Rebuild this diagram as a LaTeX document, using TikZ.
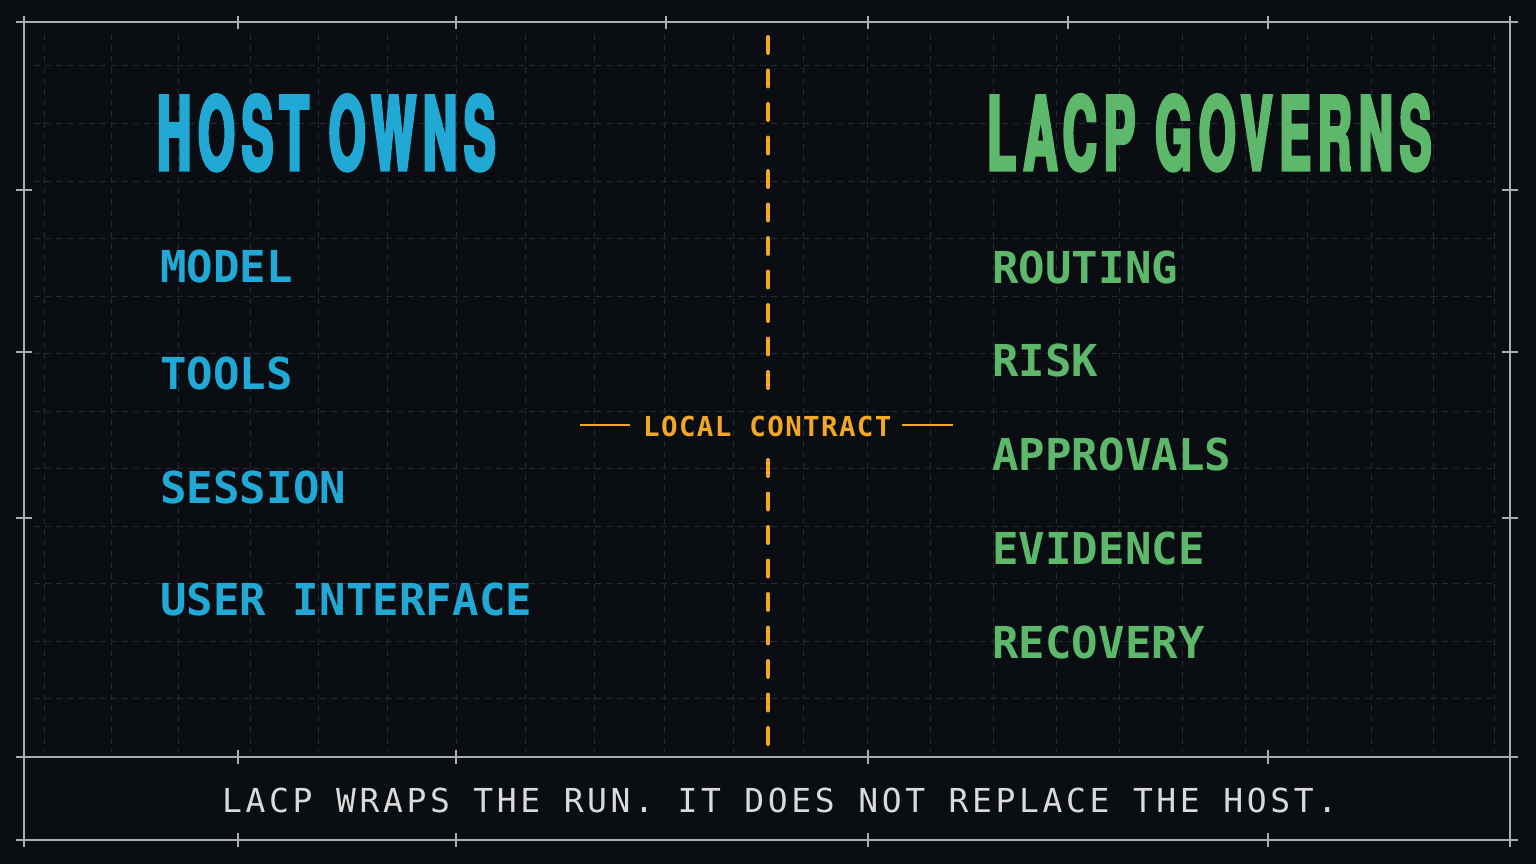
\documentclass[tikz,border=0pt]{standalone}
\usepackage{fontspec}
\usepackage{tikz}
\newfontfamily\headfont{texgyreheros-bold.otf}[FakeStretch=0.46,LetterSpace=7,RawFeature={embolden=3}]
\newfontfamily\itemfont{DejaVu Sans Mono}[LetterSpace=0.2]
\newfontfamily\tagfont{DejaVu Sans Mono}[LetterSpace=5]
\newfontfamily\notefont{DejaVu Sans Mono}[LetterSpace=11]
\definecolor{bg}{HTML}{0A0D12}
\definecolor{hostblue}{HTML}{22A8D4}
\definecolor{lacpgreen}{HTML}{5DB86B}
\definecolor{contractorange}{HTML}{F2A725}
\definecolor{framegray}{HTML}{A9ADB1}
\definecolor{gridgray}{HTML}{262B31}
\definecolor{notegray}{HTML}{DADBD9}
\pgfdeclarelayer{background}
\pgfsetlayers{background,main}

\begin{document}
\begin{tikzpicture}[x=1pt,y=-1pt,
  gridline/.style={draw=gridgray,line width=1pt,dash pattern=on 6pt off 5pt},
  frameline/.style={draw=framegray,line width=1.6pt},
  divider/.style={draw=contractorange,line width=4pt,line cap=round,dash pattern=on 16pt off 17.5pt},
  tagline/.style={draw=contractorange,line width=2.6pt},
  head/.style={anchor=base west,inner sep=0pt,font=\headfont\fontsize{102}{102}\selectfont},
  item/.style={anchor=base west,inner sep=0pt,font=\itemfont\bfseries\fontsize{44}{44}\selectfont},
  tag/.style={anchor=base west,inner sep=0pt,text=contractorange,font=\tagfont\bfseries\fontsize{27.5}{27.5}\selectfont},
  note/.style={anchor=base west,inner sep=0pt,text=notegray,font=\notefont\fontsize{33}{33}\selectfont}]
\begin{pgfonlayer}{background}
\fill[bg] (0,0) rectangle (1536,864);
\foreach \gx in {44,111,178,250,318,387,456,525,594,664,733,803,867,930,993,1056,1119,1182,1245,1307,1371,1433,1494}
  \draw[gridline] (\gx,34) -- (\gx,752);
\foreach \gy in {0,...,11}
  \draw[gridline] (34,66+57.5*\gy) -- (1497,66+57.5*\gy);
\end{pgfonlayer}
% frame
\foreach \fy in {22,757,840}
  \draw[frameline] (16,\fy) -- (1518,\fy);
\foreach \fx in {24,1510}
  \draw[frameline] (\fx,16) -- (\fx,847);
\foreach \tx in {238,456,666,868,1068,1268}
  \draw[frameline] (\tx,16) -- (\tx,29);
\foreach \tx in {238,456,868,1268} {
  \draw[frameline] (\tx,750) -- (\tx,764);
  \draw[frameline] (\tx,833) -- (\tx,847);
}
\foreach \ty in {190,352,518} {
  \draw[frameline] (16,\ty) -- (32,\ty);
  \draw[frameline] (1502,\ty) -- (1518,\ty);
}
% headings
\node[head,text=hostblue] (hostHead) at (157,170) {HOST OWNS};
\node[head,text=lacpgreen] (lacpHead) at (987,170) {LACP GOVERNS};
% host side
\node[item,text=hostblue] (model) at (160,282) {MODEL};
\node[item,text=hostblue] (tools) at (160,389) {TOOLS};
\node[item,text=hostblue] (session) at (160,503) {SESSION};
\node[item,text=hostblue] (userUi) at (160,615) {USER INTERFACE};
% lacp side
\node[item,text=lacpgreen] (routing) at (992,283) {ROUTING};
\node[item,text=lacpgreen] (risk) at (992,376) {RISK};
\node[item,text=lacpgreen] (approvals) at (992,470) {APPROVALS};
\node[item,text=lacpgreen] (evidence) at (992,564) {EVIDENCE};
\node[item,text=lacpgreen] (recovery) at (992,658) {RECOVERY};
% contract
\node[tag] (contract) at (643,436) {LOCAL CONTRACT};
\coordinate (divTop) at (768,37);
\coordinate (divTopEnd) at (768,388);
\coordinate (divBotStart) at (768,460);
\coordinate (divBot) at (768,745);
\draw[divider] (divTop) -- (divTopEnd);
\draw[divider] (divBotStart) -- (divBot);
\coordinate (tagLeftA) at (580,425);
\coordinate (tagLeftB) at (630,425);
\coordinate (tagRightA) at (902,425);
\coordinate (tagRightB) at (953,425);
\draw[tagline] (tagLeftA) -- (tagLeftB);
\draw[tagline] (tagRightA) -- (tagRightB);
% footer
\node[note] (footNote) at (222,812) {LACP WRAPS THE RUN. IT DOES NOT REPLACE THE HOST.};
\end{tikzpicture}
\end{document}
